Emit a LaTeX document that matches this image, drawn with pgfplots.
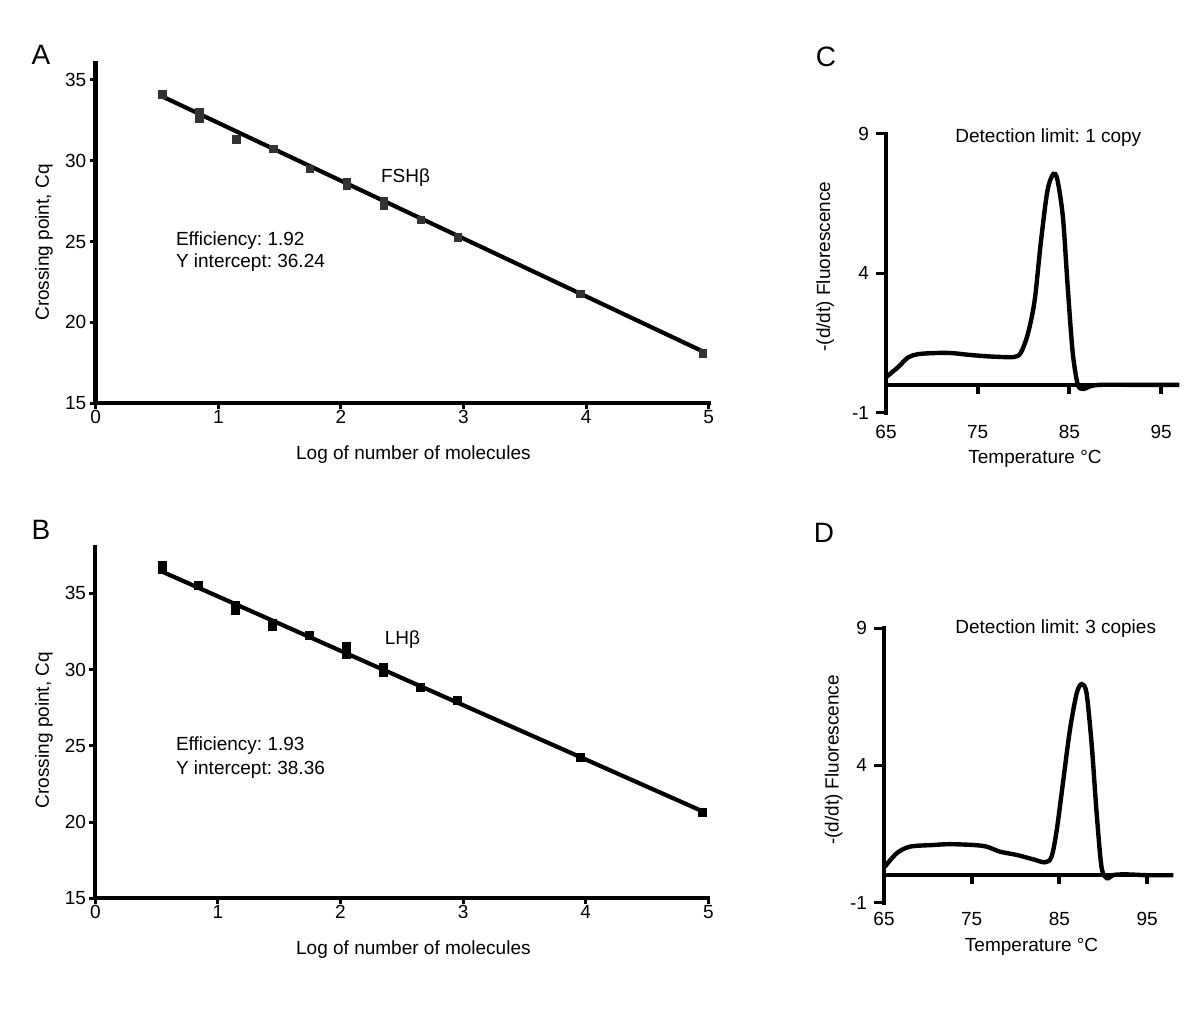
\documentclass[border=0pt]{standalone}
\usepackage{fontspec}
\setmainfont{Liberation Sans}
\usepackage{pgfplots}
\pgfplotsset{compat=1.18}
\definecolor{markA}{RGB}{50,50,50}
\frenchspacing
\begin{document}
\frenchspacing
\begin{tikzpicture}[font=\fontsize{9.5}{11.4}\selectfont]
\path[use as bounding box] (0,0) rectangle (600pt,505pt);
\pgfplotsset{
  panel/.style={
    scale only axis, anchor=south west, clip=false,
    axis lines=left,
    axis line style={line width=2.2pt, line cap=rect, -},
    tick align=outside,
    tick style={black, line width=1.5pt},
    major tick length=3pt,
    /pgf/number format/assume math mode=true,
    tick label style={font=\fontsize{9.5}{11.4}\selectfont},
    yticklabel style={inner sep=1.5pt},
    xticklabel style={inner sep=0.5pt},
  },
  melt/.style={
    scale only axis, anchor=south west, clip=false,
    axis lines=left,
    y axis line style={line width=2.2pt, line cap=rect, -},
    x axis line style={draw=none},
    tick align=outside,
    ytick style={black, line width=1.5pt},
    xtick style={draw=none},
    major tick length=5pt,
    ymin=-1, ymax=9, ytick={-1,4,9}, yticklabels={-1,4,9},
    xtick={65,75,85,95},
    /pgf/number format/assume math mode=true,
    tick label style={font=\fontsize{9.5}{11.4}\selectfont},
    xticklabel style={inner sep=1pt},
  },
}

% ---------- Panel A ----------
\begin{axis}[panel, at={(47.85pt,303.35pt)}, width=306.5pt, height=169.8pt,
  xmin=0, xmax=5, ymin=15, ymax=36,
  xtick={0,1,2,3,4,5}, ytick={15,20,25,30,35}]
\addplot[only marks, mark=square*, mark size=1.9pt, color=markA] coordinates {
 (0.544,34.1) (0.845,33.0) (0.845,32.6) (1.146,31.3) (1.447,30.73) (1.748,29.5)
 (2.049,28.7) (2.049,28.45) (2.35,27.5) (2.35,27.2) (2.653,26.34) (2.954,25.27)
 (3.954,21.77) (4.954,18.1)};
\addplot[line width=2.1pt, black, no marks] coordinates {(0.544,33.97) (4.954,18.2)};
\end{axis}

% ---------- Panel B ----------
\begin{axis}[panel, at={(47.65pt,55.85pt)}, width=306.5pt, height=175.4pt,
  xmin=0, xmax=5, ymin=15, ymax=38,
  xtick={0,1,2,3,4,5}, ytick={15,20,25,30,35}]
\addplot[only marks, mark=square*, mark size=2.0pt, color=black] coordinates {
 (0.544,36.85) (0.544,36.55) (0.845,35.49) (1.146,34.2) (1.146,33.9)
 (1.447,33.05) (1.447,32.8) (1.748,32.21) (2.049,31.5) (2.049,31.0)
 (2.35,30.15) (2.35,29.8) (2.653,28.85) (2.954,28.0) (3.954,24.27) (4.954,20.66)};
\addplot[line width=2.1pt, black, no marks] coordinates {(0.544,36.42) (4.954,20.7)};
\end{axis}

% ---------- Panel C ----------
\begin{axis}[melt, at={(443pt,298.65pt)}, width=146.7pt, height=139.35pt,
  xmin=65, xmax=97]
\draw[line width=2.2pt] (axis cs:65,0) -- (axis cs:97,0);
\pgfplotsinvokeforeach{75,85,95}{\draw[line width=2pt] (axis cs:#1,0) -- ++(0pt,-4.5pt);}
\addplot[line width=2.2pt, black, no marks, smooth, tension=0.5] coordinates {
 (65,0.27) (66.3,0.63) (67.4,0.98) (68.5,1.1) (70.3,1.14) (72.1,1.14) (73.9,1.08)
 (75.7,1.03) (77.5,1.0) (79.0,1.0) (79.7,1.15) (80.45,1.8) (81.2,3.0) (81.9,5.15)
 (82.6,6.95) (83.25,7.57) (83.7,7.35) (84.3,6.0) (84.8,3.6) (85.35,1.2) (85.9,0.03)
 (86.45,-0.15) (87.4,-0.04) (88.5,0.0) (92,0.0) (97,0.0)};
\end{axis}

% ---------- Panel D ----------
\begin{axis}[melt, at={(442pt,53.65pt)}, width=144.7pt, height=137.35pt,
  xmin=65, xmax=98, xticklabel style={yshift=1.5pt}]
\draw[line width=2.2pt] (axis cs:65,0) -- (axis cs:98,0);
\pgfplotsinvokeforeach{75,85,95}{\draw[line width=2pt] (axis cs:#1,0) -- ++(0pt,-4.5pt);}
\addplot[line width=2.2pt, black, no marks, smooth, tension=0.5] coordinates {
 (65.1,0.31) (66.45,0.8) (67.96,1.04) (70.6,1.1) (72.5,1.13) (75.2,1.1) (76.7,1.04)
 (78.2,0.86) (80.1,0.74) (82.0,0.58) (83.35,0.47) (84.1,0.67) (84.7,1.65) (85.45,3.47)
 (86.2,5.29) (86.97,6.62) (87.54,6.96) (88.1,6.62) (88.7,4.68) (89.25,2.25) (89.8,0.31)
 (90.4,-0.11) (91.2,0.01) (92.7,0.03) (95,0.0) (98,0.0)};
\end{axis}

% ---------- Texts ----------
\node[font=\fontsize{14}{16}\selectfont] at (20.5pt,477.5pt) {A};
\node[font=\fontsize{14}{16}\selectfont] at (20.5pt,240pt) {B};
\node[font=\fontsize{14}{16}\selectfont] at (413pt,476.5pt) {C};
\node[font=\fontsize{14}{16}\selectfont] at (412pt,238.5pt) {D};

\node[anchor=base west, inner sep=0pt] at (190.3pt,413.7pt) {FSHβ};
\node[anchor=base west, inner sep=0pt] at (192.2pt,182.8pt) {LHβ};
\node[anchor=base west, inner sep=0pt] at (87.8pt,382pt) {Efficiency: 1.92};
\node[anchor=base west, inner sep=0pt] at (87.8pt,371pt) {Y intercept: 36.24};
\node[anchor=base west, inner sep=0pt] at (87.8pt,129.5pt) {Efficiency: 1.93};
\node[anchor=base west, inner sep=0pt] at (87.8pt,117.85pt) {Y intercept: 38.36};
\node[anchor=base west, inner sep=0pt] at (477.5pt,433.7pt) {Detection limit: 1 copy};
\node[anchor=base west, inner sep=0pt] at (477.5pt,188.3pt) {Detection limit: 3 copies};

\node[anchor=base, inner sep=0pt] at (206.7pt,275pt) {Log of number of molecules};
\node[anchor=base, inner sep=0pt] at (206.7pt,27.5pt) {Log of number of molecules};
\node[anchor=base, inner sep=0pt] at (517.5pt,273.3pt) {Temperature °C};
\node[anchor=base, inner sep=0pt] at (515.8pt,29.2pt) {Temperature °C};

\node[anchor=base, rotate=90, inner sep=0pt] at (24.5pt,383.75pt) {Crossing point, Cq};
\node[anchor=base, rotate=90, inner sep=0pt] at (24.5pt,140pt) {Crossing point, Cq};
\node[anchor=base, rotate=90, inner sep=0pt] at (415pt,371.7pt) {-(d/dt) Fluorescence};
\node[anchor=base, rotate=90, inner sep=0pt] at (419.25pt,125pt) {-(d/dt) Fluorescence};
\end{tikzpicture}
\end{document}
